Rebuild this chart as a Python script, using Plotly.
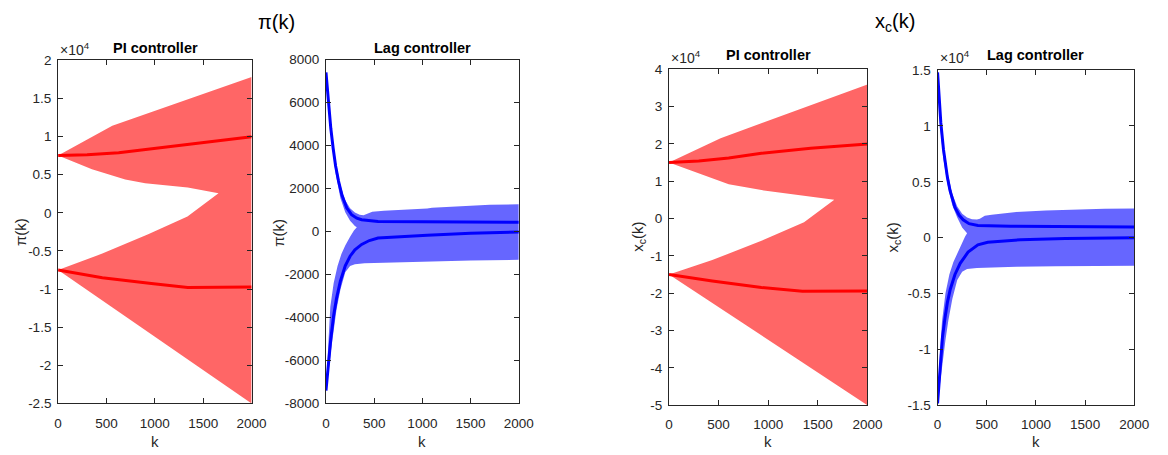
import plotly.graph_objects as go

W, H = 1168, 455

# ---------------- pi(k), PI controller ----------------
pi_pi_top_k = [0, 560, 2000]
pi_pi_top_v = [7500, 11400, 17800]
pi_pi_gapup_k = [0, 350, 694, 900, 1340, 1658]
pi_pi_gapup_v = [7500, 5700, 4370, 3860, 3310, 2550]
pi_pi_gaplo_k = [0, 457, 931, 1337, 1658]
pi_pi_gaplo_v = [-7500, -5350, -2820, -490, 2550]
pi_pi_bot_k = [0, 2000]
pi_pi_bot_v = [-7500, -25000]
pi_pi_mup_k = [0, 300, 626, 964, 1472, 2000]
pi_pi_mup_v = [7500, 7600, 7870, 8380, 9225, 9950]
pi_pi_mlo_k = [0, 457, 964, 1340, 2000]
pi_pi_mlo_v = [-7500, -8520, -9280, -9780, -9720]

# ---------------- pi(k), Lag controller ----------------
pi_lag_top_k = [0, 30, 60, 100, 150, 200, 250, 300, 350, 390, 430, 480, 600, 800, 1050, 1100, 1400, 1700, 2000]
pi_lag_top_v = [7400, 6000, 4700, 3300, 2150, 1450, 1080, 880, 780, 760, 830, 920, 970, 1010, 1070, 1110, 1190, 1240, 1270]
pi_lag_gapup_k = [0, 30, 60, 100, 150, 200, 250, 300, 320]
pi_lag_gapup_v = [7400, 5500, 4200, 2700, 1550, 900, 500, 250, 200]
pi_lag_gaplo_k = [0, 20, 45, 80, 120, 160, 200, 250, 290, 320]
pi_lag_gaplo_v = [-7400, -5600, -3500, -2400, -1600, -1050, -650, -250, 50, 200]
pi_lag_bot_k = [0, 25, 50, 80, 110, 150, 200, 250, 300, 400, 600, 1000, 1500, 2000]
pi_lag_bot_v = [-7400, -6600, -5600, -4500, -3600, -2700, -1900, -1600, -1520, -1480, -1450, -1400, -1350, -1320]
pi_lag_mup_k = [0, 25, 50, 75, 100, 130, 165, 215, 265, 320, 370, 540, 1000, 2000]
pi_lag_mup_v = [7400, 6000, 4800, 3850, 3050, 2350, 1700, 1100, 780, 620, 545, 470, 450, 430]
pi_lag_mlo_k = [0, 25, 50, 80, 110, 150, 200, 250, 300, 370, 450, 540, 800, 1050, 1500, 2000]
pi_lag_mlo_v = [-7400, -6100, -5000, -3900, -3100, -2300, -1600, -1150, -850, -600, -420, -300, -220, -170, -80, -20]

# ---------------- x_c(k), PI controller ----------------
xc_pi_top_k = [0, 520, 2000]
xc_pi_top_v = [15000, 21500, 35900]
xc_pi_gapup_k = [0, 271, 602, 932, 1361, 1666]
xc_pi_gapup_v = [15000, 12300, 9170, 7600, 6140, 5000]
xc_pi_gaplo_k = [0, 436, 932, 1361, 1666]
xc_pi_gaplo_v = [-15000, -11140, -5960, -1040, 5000]
xc_pi_bot_k = [0, 2000]
xc_pi_bot_v = [-15000, -50000]
xc_pi_mup_k = [0, 300, 602, 932, 1428, 2000]
xc_pi_mup_v = [15000, 15400, 16190, 17490, 18830, 19950]
xc_pi_mlo_k = [0, 436, 932, 1345, 2000]
xc_pi_mlo_v = [-15000, -16730, -18460, -19500, -19450]

# ---------------- x_c(k), Lag controller ----------------
xc_lag_top_k = [0, 30, 60, 100, 150, 200, 250, 300, 350, 400, 430, 480, 550, 800, 1100, 1400, 1700, 2000]
xc_lag_top_v = [14800, 11000, 8400, 5900, 3900, 2800, 2150, 1800, 1650, 1620, 1700, 1950, 2060, 2300, 2440, 2530, 2580, 2620]
xc_lag_gapup_k = [0, 30, 60, 100, 150, 200, 250, 280, 300]
xc_lag_gapup_v = [14800, 9600, 7000, 4800, 2900, 1800, 900, 600, 400]
xc_lag_gaplo_k = [0, 20, 45, 80, 120, 160, 200, 250, 280, 300]
xc_lag_gaplo_v = [-14800, -11000, -7500, -5000, -3300, -2200, -1400, -350, 100, 400]
xc_lag_bot_k = [0, 25, 50, 80, 110, 150, 200, 250, 300, 400, 800, 1200, 2000]
xc_lag_bot_v = [-14850, -13200, -11300, -9200, -7400, -5500, -3800, -3050, -2800, -2720, -2600, -2560, -2510]
xc_lag_mup_k = [0, 15, 33, 60, 80, 100, 127, 150, 177, 220, 260, 320, 410, 743, 2000]
xc_lag_mup_v = [14800, 12500, 10300, 7900, 6500, 5400, 4200, 3400, 2700, 2000, 1600, 1250, 1080, 1020, 950]
xc_lag_mlo_k = [0, 15, 27, 50, 77, 100, 130, 177, 230, 310, 410, 510, 843, 1300, 2000]
xc_lag_mlo_v = [-14850, -12800, -11100, -8900, -7100, -5800, -4600, -3300, -2300, -1300, -650, -420, -190, -80, -10]

# ---------------- ticks / labels ----------------
k_ticks = [0, 500, 1000, 1500, 2000]
k_ticktext = ["0", "500", "1000", "1500", "2000"]
y1_ticks = [-25000, -20000, -15000, -10000, -5000, 0, 5000, 10000, 15000, 20000]
y1_text = ["-2.5", "-2", "-1.5", "-1", "-0.5", "0", "0.5", "1", "1.5", "2"]
y2_ticks = [-8000, -6000, -4000, -2000, 0, 2000, 4000, 6000, 8000]
y2_text = ["-8000", "-6000", "-4000", "-2000", "0", "2000", "4000", "6000", "8000"]
y3_ticks = [-50000, -40000, -30000, -20000, -10000, 0, 10000, 20000, 30000, 40000]
y3_text = ["-5", "-4", "-3", "-2", "-1", "0", "1", "2", "3", "4"]
y4_ticks = [-15000, -10000, -5000, 0, 5000, 10000, 15000]
y4_text = ["-1.5", "-1", "-0.5", "0", "0.5", "1", "1.5"]

RED_FILL = "rgb(255,102,102)"
BLUE_FILL = "rgb(102,102,255)"
FONT = "Liberation Sans, Arial, Helvetica, sans-serif"
AXC = "#262626"


def band(top_k, top_v, bot_k, bot_v, glo_k, glo_v, gup_k, gup_v):
    xs = list(top_k) + list(bot_k)[::-1] + list(glo_k) + list(gup_k)[::-1]
    ys = list(top_v) + list(bot_v)[::-1] + list(glo_v) + list(gup_v)[::-1]
    return xs, ys


fig = go.Figure()

panels = [
    (1, RED_FILL, "red",
     (pi_pi_top_k, pi_pi_top_v, pi_pi_bot_k, pi_pi_bot_v, pi_pi_gaplo_k, pi_pi_gaplo_v, pi_pi_gapup_k, pi_pi_gapup_v),
     [(pi_pi_mup_k, pi_pi_mup_v), (pi_pi_mlo_k, pi_pi_mlo_v)]),
    (2, BLUE_FILL, "blue",
     (pi_lag_top_k, pi_lag_top_v, pi_lag_bot_k, pi_lag_bot_v, pi_lag_gaplo_k, pi_lag_gaplo_v, pi_lag_gapup_k, pi_lag_gapup_v),
     [(pi_lag_mup_k, pi_lag_mup_v), (pi_lag_mlo_k, pi_lag_mlo_v)]),
    (3, RED_FILL, "red",
     (xc_pi_top_k, xc_pi_top_v, xc_pi_bot_k, xc_pi_bot_v, xc_pi_gaplo_k, xc_pi_gaplo_v, xc_pi_gapup_k, xc_pi_gapup_v),
     [(xc_pi_mup_k, xc_pi_mup_v), (xc_pi_mlo_k, xc_pi_mlo_v)]),
    (4, BLUE_FILL, "blue",
     (xc_lag_top_k, xc_lag_top_v, xc_lag_bot_k, xc_lag_bot_v, xc_lag_gaplo_k, xc_lag_gaplo_v, xc_lag_gapup_k, xc_lag_gapup_v),
     [(xc_lag_mup_k, xc_lag_mup_v), (xc_lag_mlo_k, xc_lag_mlo_v)]),
]

for idx, fillc, linec, bd, means in panels:
    ax = "" if idx == 1 else str(idx)
    bx, by = band(*bd)
    fig.add_trace(go.Scatter(x=bx, y=by, mode="lines", fill="toself", fillcolor=fillc,
                             line=dict(width=0, color=fillc), xaxis="x" + ax, yaxis="y" + ax,
                             showlegend=False, hoverinfo="skip"))
    for mk, mv in means:
        fig.add_trace(go.Scatter(x=mk, y=mv, mode="lines", line=dict(color=linec, width=3),
                                 xaxis="x" + ax, yaxis="y" + ax, showlegend=False))

# axes boxes in pixels: (x0, x1, ytop, ybottom)
boxes = {
    1: (55, 251.7, 55, 410),
    2: (327.3, 523.3, 54.3, 410),
    3: (676, 877.7, 64.3, 411.7),
    4: (949, 1149, 65.3, 411.7),
}
yinfo = {
    1: ([-25000, 20000], y1_ticks, y1_text),
    2: ([-8000, 8000], y2_ticks, y2_text),
    3: ([-50000, 40000], y3_ticks, y3_text),
    4: ([-15000, 15000], y4_ticks, y4_text),
}

common = dict(showline=True, linecolor=AXC, linewidth=1, mirror="allticks", ticks="inside",
              ticklen=5, tickcolor=AXC, tickwidth=1, showgrid=False, zeroline=False,
              tickfont=dict(family=FONT, size=13.5, color=AXC))

layout = dict(width=W, height=H, margin=dict(l=0, r=0, t=0, b=0),
              paper_bgcolor="white", plot_bgcolor="white", showlegend=False)

for i, (x0, x1, yt, yb) in boxes.items():
    ax = "" if i == 1 else str(i)
    rng, tv, tt = yinfo[i]
    layout["xaxis" + ax] = dict(common, domain=[x0 / W, x1 / W], range=[0, 2000],
                                tickvals=k_ticks, ticktext=k_ticktext, anchor="y" + ax,
                                ticklabelstandoff=7)
    layout["yaxis" + ax] = dict(common, domain=[1 - yb / H, 1 - yt / H], range=rng,
                                tickvals=tv, ticktext=tt, anchor="x" + ax,
                                ticklabelstandoff=3)

fig.update_layout(**layout)


def ann(text, px, py, size=13, color=AXC, bold=False, angle=0, xanchor="center"):
    if bold:
        text = "<b>" + text + "</b>"
    fig.add_annotation(text=text, x=px / W, y=1 - py / H, xref="paper", yref="paper",
                       showarrow=False, xanchor=xanchor, yanchor="middle", textangle=angle,
                       font=dict(family=FONT, size=size, color=color))


# super titles
ann("π(k)", 277, 16, size=20, color="black")
ann("x<sub>c</sub>(k)", 906, 16, size=20, color="black")

# subplot titles
ann("PI controller", 153.5, 42, size=14.5, color="black", bold=True)
ann("Lag controller", 425.3, 42, size=14.5, color="black", bold=True)
ann("PI controller", 777, 50, size=14.5, color="black", bold=True)
ann("Lag controller", 1049, 50, size=14.5, color="black", bold=True)

# exponent labels
ann("×10<sup>4</sup>", 55, 43, size=14, xanchor="left")
ann("×10<sup>4</sup>", 676, 52, size=14, xanchor="left")
ann("×10<sup>4</sup>", 949, 52, size=14, xanchor="left")

# x labels
for i, (x0, x1, yt, yb) in boxes.items():
    ann("k", (x0 + x1) / 2, 449, size=15)

# y labels
ann("π(k)", 17, 233, size=15, angle=-90)
ann("π(k)", 279, 233, size=15, angle=-90)
ann("x<sub>c</sub>(k)", 645, 238, size=15, angle=-90)
ann("x<sub>c</sub>(k)", 904, 238, size=15, angle=-90)

fig.write_html("out.html")
